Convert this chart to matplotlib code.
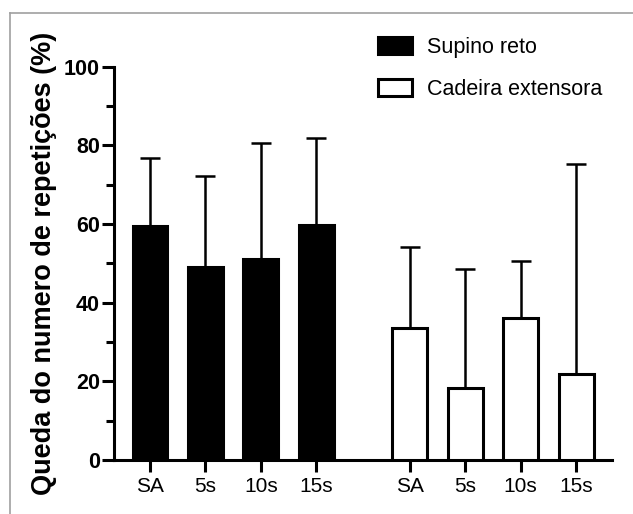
import numpy as np
import matplotlib
matplotlib.use('Agg')
import matplotlib.pyplot as plt
from matplotlib.lines import Line2D
from matplotlib.ticker import MultipleLocator

# dados
categorias = ['SA', '5s', '10s', '15s']
supino_media = [59.5, 49.2, 51.2, 59.8]
supino_dp = [17.4, 23.0, 29.4, 22.0]
cadeira_media = [33.5, 18.3, 36.2, 21.8]
cadeira_dp = [20.8, 30.2, 14.4, 53.6]

plt.rcParams['font.family'] = ['Liberation Sans', 'DejaVu Sans']

fig = plt.figure(figsize=(6.33, 5.14), dpi=100)
ax = fig.add_axes([0.180, 0.105, 0.787, 0.765])

pos1 = np.arange(4)
pos2 = np.arange(4) + 4.68
largura = 0.63
lw = 2.2

ax.bar(pos1, supino_media, width=largura, color='black', edgecolor='black',
       linewidth=lw, label='Supino reto', zorder=3)
ax.bar(pos2, cadeira_media, width=largura, color='white', edgecolor='black',
       linewidth=lw, label='Cadeira extensora', zorder=3)

ax.errorbar(pos1, supino_media, yerr=[np.zeros(4), supino_dp], fmt='none',
            ecolor='black', elinewidth=1.8, capsize=7.5, capthick=1.8, zorder=2)
ax.errorbar(pos2, cadeira_media, yerr=[np.zeros(4), cadeira_dp], fmt='none',
            ecolor='black', elinewidth=1.8, capsize=7.5, capthick=1.8, zorder=2)

ax.set_ylim(0, 100)
ax.set_xlim(-0.65, 8.33)
ax.yaxis.set_major_locator(MultipleLocator(20))
ax.yaxis.set_minor_locator(MultipleLocator(10))
ax.set_xticks(np.concatenate([pos1, pos2]))
ax.set_xticklabels(categorias + categorias, fontsize=15)
for t in ax.get_yticklabels():
    t.set_fontweight('bold')
    t.set_fontsize(15.5)

ax.spines['top'].set_visible(False)
ax.spines['right'].set_visible(False)
ax.spines['left'].set_linewidth(lw)
ax.spines['bottom'].set_linewidth(lw)
ax.tick_params(axis='both', which='major', direction='out', length=8.5, width=lw, pad=1.5)
ax.tick_params(axis='y', which='minor', direction='out', length=5.5, width=lw)
ax.tick_params(axis='x', pad=4)

ax.set_ylabel('Queda do numero de repetições (%)', fontsize=19.5, fontweight='bold', labelpad=5)

leg = ax.legend(loc='upper left', bbox_to_anchor=(0.512, 1.097), frameon=False, fontsize=15.5,
                handlelength=1.6, handleheight=0.85, handletextpad=0.7, labelspacing=0.95,
                borderaxespad=0)

# moldura cinza (topo e esquerda)
fig.add_artist(Line2D([10 / 633, 1], [1 - 13 / 514, 1 - 13 / 514], color='#a0a0a0', lw=1.2))
fig.add_artist(Line2D([10 / 633, 10 / 633], [0, 1 - 13 / 514], color='#a0a0a0', lw=1.2))

fig.savefig('out.png', dpi=100)
